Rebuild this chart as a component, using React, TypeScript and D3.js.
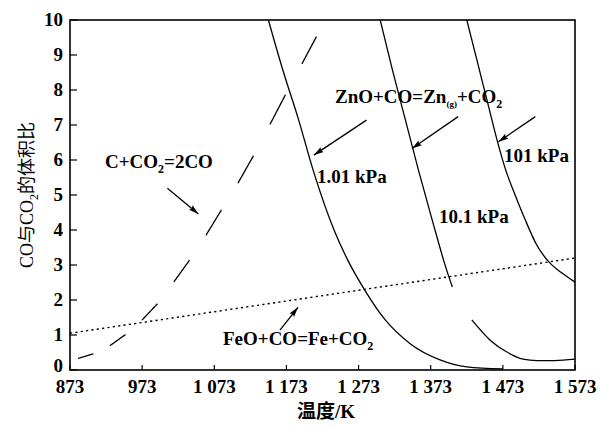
import React from "react";
import * as d3 from "d3";

// ---------- data ----------
const xTicks = [873, 973, 1073, 1173, 1273, 1373, 1473, 1573];
const xTickLabels = ["873", "973", "1 073", "1 173", "1 273", "1 373", "1 473", "1 573"];
const yTicks = [0, 1, 2, 3, 4, 5, 6, 7, 8, 9, 10];
const yTickLabels = ["0", "1", "2", "3", "4", "5", "6", "7", "8", "9", "10"];

// C + CO2 = 2CO (dashed)
const carbonT = [884, 905, 928, 949, 973, 995, 1016, 1037, 1060, 1081, 1105, 1127, 1149, 1170, 1193, 1215];
const carbonR = [0.33, 0.46, 0.69, 1.0, 1.43, 1.91, 2.49, 3.09, 3.8, 4.51, 5.31, 6.11, 6.97, 7.8, 8.69, 9.54];

// FeO + CO = Fe + CO2 (dotted)
const feoT = [873, 1573];
const feoR = [1.05, 3.2];

// ZnO + CO = Zn(g) + CO2, 1.01 kPa
const zn1T = [1148, 1168, 1190, 1210, 1239, 1258, 1282, 1310, 1344, 1386, 1423, 1473];
const zn1R = [10, 8.57, 7.14, 5.71, 4.0, 3.14, 2.27, 1.43, 0.76, 0.29, 0.09, 0.03];

// 10.1 kPa (upper part and lower part)
const zn10T = [1303, 1320, 1338, 1356, 1375, 1395, 1403];
const zn10R = [10, 8.57, 7.14, 5.71, 4.29, 2.86, 2.37];
const zn10LowT = [1430, 1455, 1478, 1501, 1520, 1545, 1573];
const zn10LowR = [1.43, 0.86, 0.52, 0.31, 0.27, 0.27, 0.31];

// 101 kPa
const zn101T = [1423, 1437, 1451, 1465, 1477, 1490, 1504, 1520, 1538, 1555, 1573];
const zn101R = [10, 8.86, 7.71, 6.57, 5.71, 5.0, 4.29, 3.57, 3.06, 2.77, 2.51];

// ---------- layout ----------
const W = 602;
const H = 427;
const M = { left: 70, right: 575, top: 20, bottom: 370 };
const FONT = "Liberation Serif, DejaVu Serif, serif";
const CJK = "Liberation Serif, Noto Sans CJK SC, serif";

const x = d3.scaleLinear().domain([873, 1573]).range([M.left, M.right]);
const y = d3.scaleLinear().domain([0, 10]).range([M.bottom, M.top]);

const zip = (ts: number[], rs: number[]) => ts.map((t, i) => [t, rs[i]] as [number, number]);

const line = d3
  .line<[number, number]>()
  .x((d) => x(d[0]))
  .y((d) => y(d[1]))
  .curve(d3.curveMonotoneX);

// dashed curve: dashes follow a fixed horizontal rhythm
function dashedSegments(ts: number[], rs: number[], period: number, dash: number) {
  const px = ts.map((t) => x(t));
  const interp = d3.scaleLinear().domain(px).range(rs.map((r) => y(r)));
  const segs: string[] = [];
  const x0 = px[0];
  const x1 = px[px.length - 1];
  for (let s = x0; s < x1; s += period) {
    const e = Math.min(s + dash, x1);
    const pts: [number, number][] = [];
    for (let u = s; u <= e + 1e-6; u += 0.5) pts.push([u, interp(u)]);
    segs.push(d3.line()(pts) as string);
  }
  return segs;
}

// arrows in data coordinates [T1, R1, T2, R2]
const arrows: [number, number, number, number][] = [
  [1008, 5.19, 1051, 4.46],
  [1284, 7.14, 1211, 6.14],
  [1411, 7.24, 1347, 6.33],
  [1518, 7.24, 1467, 6.52],
  [1164, 1.14, 1189, 1.79],
];

export default function App() {
  const carbonDashes = dashedSegments(carbonT, carbonR, 32, 15.5);
  return (
    <div style={{ position: "absolute", left: 0, top: 0 }}>
      <svg width={W} height={H} style={{ display: "block", background: "#fff" }}>
        <defs>
          <marker
            id="ah"
            markerUnits="userSpaceOnUse"
            markerWidth={11}
            markerHeight={7}
            refX={10}
            refY={3.5}
            orient="auto"
          >
            <path d="M0,0.6 L10,3.5 L0,6.4 L1.5,3.5 Z" fill="#000" />
          </marker>
        </defs>

        {/* curves */}
        <g fill="none" stroke="#000">
          {carbonDashes.map((d, i) => (
            <path key={i} d={d} strokeWidth={1.3} />
          ))}
          <path d={line(zip(feoT, feoR)) as string} strokeWidth={1.4} strokeDasharray="2.2 3.2" />
          <path d={line(zip(zn1T, zn1R)) as string} strokeWidth={1.3} />
          <path d={line(zip(zn10T, zn10R)) as string} strokeWidth={1.3} />
          <path d={line(zip(zn10LowT, zn10LowR)) as string} strokeWidth={1.3} />
          <path d={line(zip(zn101T, zn101R)) as string} strokeWidth={1.3} />
        </g>

        {/* arrows */}
        <g stroke="#000" strokeWidth={1.3}>
          {arrows.map((a, i) => (
            <line key={i} x1={x(a[0])} y1={y(a[1])} x2={x(a[2])} y2={y(a[3])} markerEnd="url(#ah)" />
          ))}
        </g>

        {/* frame */}
        <rect
          x={M.left}
          y={M.top}
          width={M.right - M.left}
          height={M.bottom - M.top}
          fill="none"
          stroke="#000"
          strokeWidth={1.6}
        />

        {/* ticks */}
        <g stroke="#000" strokeWidth={1.2}>
          {xTicks.map((t) => (
            <line key={t} x1={x(t)} x2={x(t)} y1={M.bottom} y2={M.bottom - 5} />
          ))}
          {yTicks.map((t) => (
            <line key={t} x1={M.left} x2={M.left + 7} y1={y(t)} y2={y(t)} />
          ))}
        </g>
        <g fontFamily={FONT} fontSize={19} fontWeight="bold" fill="#000">
          {xTicks.map((t, i) => (
            <text key={t} x={x(t)} y={393} textAnchor="middle">
              {xTickLabels[i]}
            </text>
          ))}
          {yTicks.map((t, i) => (
            <text key={t} x={63} y={y(t) + (t === 0 ? 2 : 6)} textAnchor="end">
              {yTickLabels[i]}
            </text>
          ))}
        </g>

        {/* axis titles */}
        <text x={326} y={418} textAnchor="middle" fontFamily={CJK} fontSize={19} fontWeight="bold">
          温度/K
        </text>
        <text
          transform={`translate(33,${(M.top + M.bottom) / 2}) rotate(-90)`}
          textAnchor="middle"
          fontFamily={CJK}
          fontSize={18}
        >
          CO与CO<tspan fontSize={12} dy={5}>2</tspan>
          <tspan dy={-5}>的体积比</tspan>
        </text>

        {/* annotations */}
        <g fontFamily={FONT} fontSize={19} fontWeight="bold" fill="#000">
          <text x={105} y={168}>
            C+CO<tspan fontSize={12} dy={5}>2</tspan>
            <tspan dy={-5}>=2CO</tspan>
          </text>
          <text x={335} y={103}>
            ZnO+CO=Zn<tspan fontSize={9} dy={4}>(g)</tspan>
            <tspan dy={-4}>+CO</tspan>
            <tspan fontSize={12} dy={5}>2</tspan>
          </text>
          <text x={317} y={183}>1.01 kPa</text>
          <text x={439} y={223}>10.1 kPa</text>
          <text x={504} y={162}>101 kPa</text>
          <text x={223} y={345}>
            FeO+CO=Fe+CO<tspan fontSize={12} dy={5}>2</tspan>
          </text>
        </g>
      </svg>
    </div>
  );
}
